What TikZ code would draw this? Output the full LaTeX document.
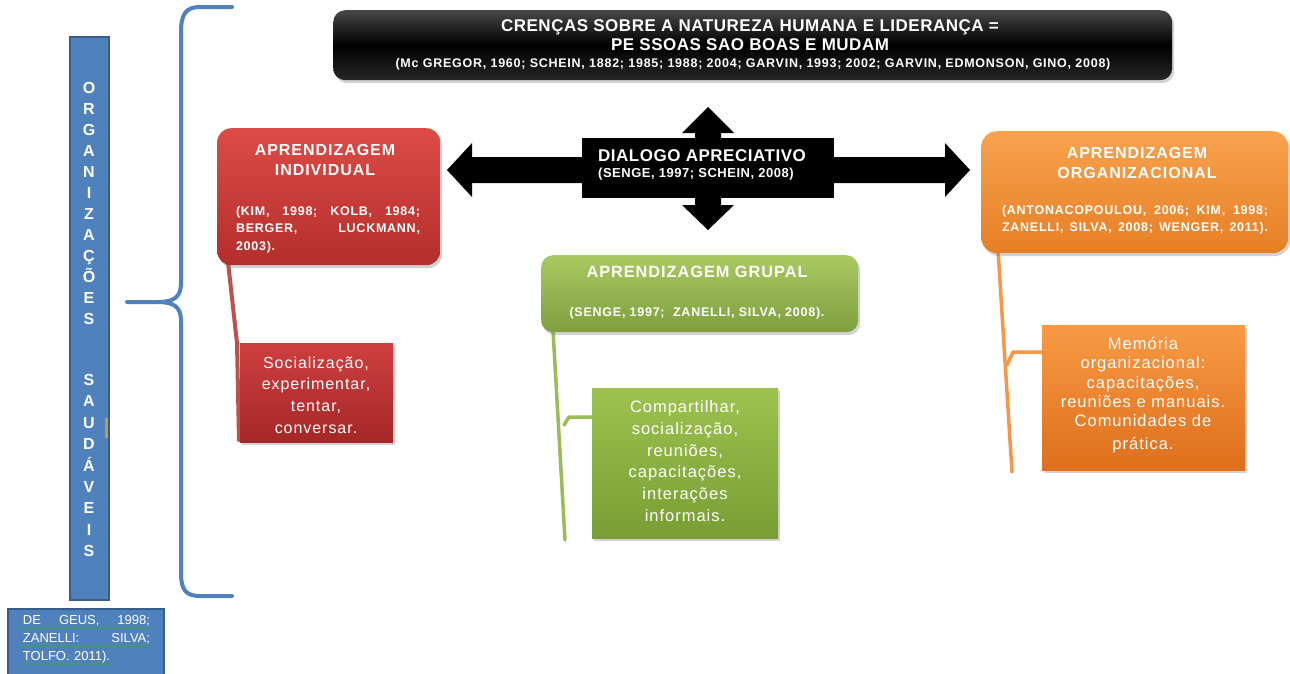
\documentclass[tikz,border=0pt]{standalone}
\usepackage{fontspec}
\setmainfont{Liberation Sans}
\newfontfamily\lsA[LetterSpace=3]{Liberation Sans}
\newfontfamily\lsB[LetterSpace=6]{Liberation Sans}
\usetikzlibrary{shadows,decorations.pathmorphing}
\definecolor{bluefill}{HTML}{4F81BD}
\definecolor{blueedge}{HTML}{385D8A}
\definecolor{redtop}{HTML}{DD4B46}
\definecolor{redbot}{HTML}{B42E2C}
\definecolor{sredtop}{HTML}{CF3F3F}
\definecolor{sredbot}{HTML}{A52727}
\definecolor{redline}{HTML}{C0504D}
\definecolor{greentop}{HTML}{A9C962}
\definecolor{greenbot}{HTML}{7F9F3F}
\definecolor{sgreentop}{HTML}{9DC24F}
\definecolor{sgreenbot}{HTML}{789E34}
\definecolor{greenline}{HTML}{9BBB59}
\definecolor{orangetop}{HTML}{F9A24E}
\definecolor{orangebot}{HTML}{E67F24}
\definecolor{sorangetop}{HTML}{F89A45}
\definecolor{sorangebot}{HTML}{DE6F1B}
\definecolor{orangeline}{HTML}{F79646}
\definecolor{tanmark}{HTML}{C89450}
\definecolor{squig}{HTML}{3FA04A}
\begin{document}
\begin{tikzpicture}[x=1pt,y=-1pt,
  box/.style={inner sep=0pt, anchor=north west, draw=none,
    drop shadow={opacity=0.35, shadow xshift=2pt, shadow yshift=-3pt}},
  redbox/.style={box, rounded corners=14pt, top color=redtop, bottom color=redbot},
  sredbox/.style={box, top color=sredtop, bottom color=sredbot},
  greenbox/.style={box, rounded corners=12pt, top color=greentop, bottom color=greenbot},
  sgreenbox/.style={box, top color=sgreentop, bottom color=sgreenbot},
  orangebox/.style={box, rounded corners=16pt, top color=orangetop, bottom color=orangebot},
  sorangebox/.style={box, top color=sorangetop, bottom color=sorangebot},
  wtxt/.style={text=white, inner sep=0pt},
  head/.style={wtxt, font=\lsB\bfseries\fontsize{16}{20}\selectfont},
  cite/.style={wtxt, font=\lsB\bfseries\fontsize{12.5}{17.5}\selectfont},
  body/.style={wtxt, align=center, font=\lsB\fontsize{16.5}{21.8}\selectfont},
  conn/.style={line width=3.5pt, line cap=round, line join=round},
  squiggle/.style={squig, line width=0.6pt, decorate,
    decoration={snake, amplitude=0.9pt, segment length=3pt}}
]
\useasboundingbox (0,0) rectangle (1290,673);
\fill[white] (0,0) rectangle (1290,673);

% ---------- left side ----------
\node[inner sep=0pt, anchor=north west, fill=bluefill, draw=blueedge, line width=1.5pt,
  minimum width=39pt, minimum height=563pt] (bar) at (69,36) {};
\node[wtxt, align=center, font=\bfseries\fontsize{16}{21}\selectfont] (org) at (89,203)
  {O\\R\\G\\A\\N\\I\\Z\\A\\Ç\\Õ\\E\\S};
\node[wtxt, align=center, font=\bfseries\fontsize{16}{21.375}\selectfont] (sau) at (89,465.5)
  {S\\A\\U\\D\\Á\\V\\E\\I\\S};
\fill[tanmark] (104.5,418) rectangle (107.5,438);

\node[inner sep=0pt, anchor=north west, fill=bluefill, draw=blueedge, line width=1.5pt,
  minimum width=156pt, minimum height=68pt] (ref) at (7,608) {};
\node[wtxt, align=left, text width=127pt, font=\fontsize{13}{18}\selectfont] (reft) at (86.5,639)
  {\makebox[127pt][l]{DE\hfill GEUS,\hfill 1998;}\\\makebox[127pt][l]{ZANELLI:\hfill SILVA;}\\TOLFO. 2011).};
\draw[squiggle] (22,628) -- (150,628);
\draw[squiggle] (22,646) -- (150,646);
\draw[squiggle] (22,664) -- (113,664);

% brace
\draw[bluefill, line width=4pt, line cap=round, line join=round]
  (232,7) -- (200,7) .. controls (186,7) and (181,14) .. (181,32)
  -- (181,283) .. controls (181,297) and (174,302) .. (158,302) -- (127,302)
  (158,302) .. controls (174,302) and (181,307) .. (181,321)
  -- (181,573) .. controls (181,590) and (186,596) .. (200,596) -- (232,596);

% ---------- top black box ----------
\node[box, rounded corners=12pt, top color=black!72, bottom color=black!85, middle color=black,
  minimum width=839pt, minimum height=70pt] (bel) at (333,10) {};
\node[wtxt, font=\lsA\bfseries\fontsize{17}{20}\selectfont] (bel1) at (750,27)
  {CRENÇAS SOBRE A NATUREZA HUMANA E LIDERANÇA =};
\node[wtxt, font=\lsA\bfseries\fontsize{17}{20}\selectfont] (bel2) at (750,45)
  {PE SSOAS SAO BOAS E MUDAM};
\node[wtxt, font=\lsB\bfseries\fontsize{12.5}{15}\selectfont] (bel3) at (753,64)
  {(Mc GREGOR, 1960; SCHEIN, 1882; 1985; 1988; 2004; GARVIN, 1993; 2002; GARVIN, EDMONSON, GINO, 2008)};

% ---------- cross arrows ----------
\fill[black] (447,170) -- (472,143) -- (472,157) -- (945,157) -- (945,143) -- (970,170)
  -- (945,197) -- (945,183) -- (472,183) -- (472,197) -- cycle;
\fill[black] (708,107) -- (734,133) -- (721,133) -- (721,205) -- (734,205) -- (708,230)
  -- (682,205) -- (695,205) -- (695,133) -- (682,133) -- cycle;
\node[inner sep=0pt, anchor=north west, fill=black, minimum width=252pt, minimum height=60pt]
  (dlg) at (582,138) {};
\node[wtxt, anchor=west, font=\lsA\bfseries\fontsize{17}{20}\selectfont] (dlg1) at (598,156)
  {DIALOGO APRECIATIVO};
\node[wtxt, anchor=west, font=\addfontfeature{LetterSpace=4}\bfseries\fontsize{13}{16}\selectfont] (dlg2) at (598,174)
  {(SENGE, 1997; SCHEIN, 2008)};

% ---------- connectors ----------
\coordinate (ra) at (228,262);
\coordinate (rb) at (237,343);
\coordinate (rc) at (239,440);
\draw[conn, redline, line width=4pt] (ra) -- (rb) -- (rc);
\coordinate (ga) at (553,330);
\coordinate (gb) at (565,540);
\coordinate (gc) at (564,425);
\coordinate (gd) at (569,417);
\coordinate (ge) at (594,417);
\draw[conn, greenline] (ga) -- (gb);
\draw[conn, greenline] (gc) -- (gd) -- (ge);
\coordinate (oa) at (998,250);
\coordinate (ob) at (1012,472);
\coordinate (oc) at (1007,365);
\coordinate (od) at (1013,352);
\coordinate (oe) at (1043,352);
\draw[conn, orangeline] (oa) -- (ob);
\draw[conn, orangeline] (oc) -- (od) -- (oe);

% ---------- red ----------
\node[redbox, minimum width=223pt, minimum height=137pt] (ind) at (217,128) {};
\node[head] (ind1) at (325,150) {APRENDIZAGEM};
\node[head] (ind2) at (325,170) {INDIVIDUAL};
\node[cite, align=left, text width=184pt] (ind3) at (328,229.5)
  {\makebox[184pt][l]{(KIM,\hfill 1998;\hfill KOLB,\hfill 1984;}\\\makebox[184pt][l]{BERGER,\hfill LUCKMANN,}\\2003).};
\node[sredbox, minimum width=153pt, minimum height=99pt] (indb) at (240,343) {};
\node[body, font=\lsB\fontsize{16}{21.7}\selectfont] (indbt) at (316,395)
  {Socialização,\\experimentar,\\tentar,\\conversar.};

% ---------- green ----------
\node[greenbox, minimum width=317pt, minimum height=77pt] (grp) at (541,255) {};
\node[head, font=\lsB\bfseries\fontsize{16.3}{20}\selectfont] (grp1) at (697,272) {APRENDIZAGEM GRUPAL};
\node[cite] (grp2) at (697,313) {(SENGE, 1997;\ \ ZANELLI, SILVA, 2008).};
\node[sgreenbox, minimum width=186pt, minimum height=150pt] (grpb) at (592,388) {};
\node[body] (grpbt) at (685,461)
  {Compartilhar,\\socialização,\\reuniões,\\capacitações,\\interações\\informais.};

% ---------- orange ----------
\node[orangebox, minimum width=307pt, minimum height=122pt] (orgz) at (981,131) {};
\node[head] (orgz1) at (1137,153) {APRENDIZAGEM};
\node[head] (orgz2) at (1137,173) {ORGANIZACIONAL};
\node[cite, align=left, text width=266pt] (orgz3) at (1135,220)
  {\makebox[266pt][l]{(ANTONACOPOULOU,\hfill 2006;\hfill KIM,\hfill 1998;}\\\makebox[266pt][l]{ZANELLI,\hfill SILVA,\hfill 2008;\hfill WENGER,\hfill 2011).}};
\node[sorangebox, minimum width=203pt, minimum height=145pt] (orgzb) at (1042,325) {};
\node[body, font=\lsB\fontsize{16.5}{19.3}\selectfont] (orgzbt) at (1143,395)
  {Memória\\organizacional:\\capacitações,\\reuniões e manuais.\\Comunidades de\\[3pt]prática.};
\end{tikzpicture}
\end{document}
